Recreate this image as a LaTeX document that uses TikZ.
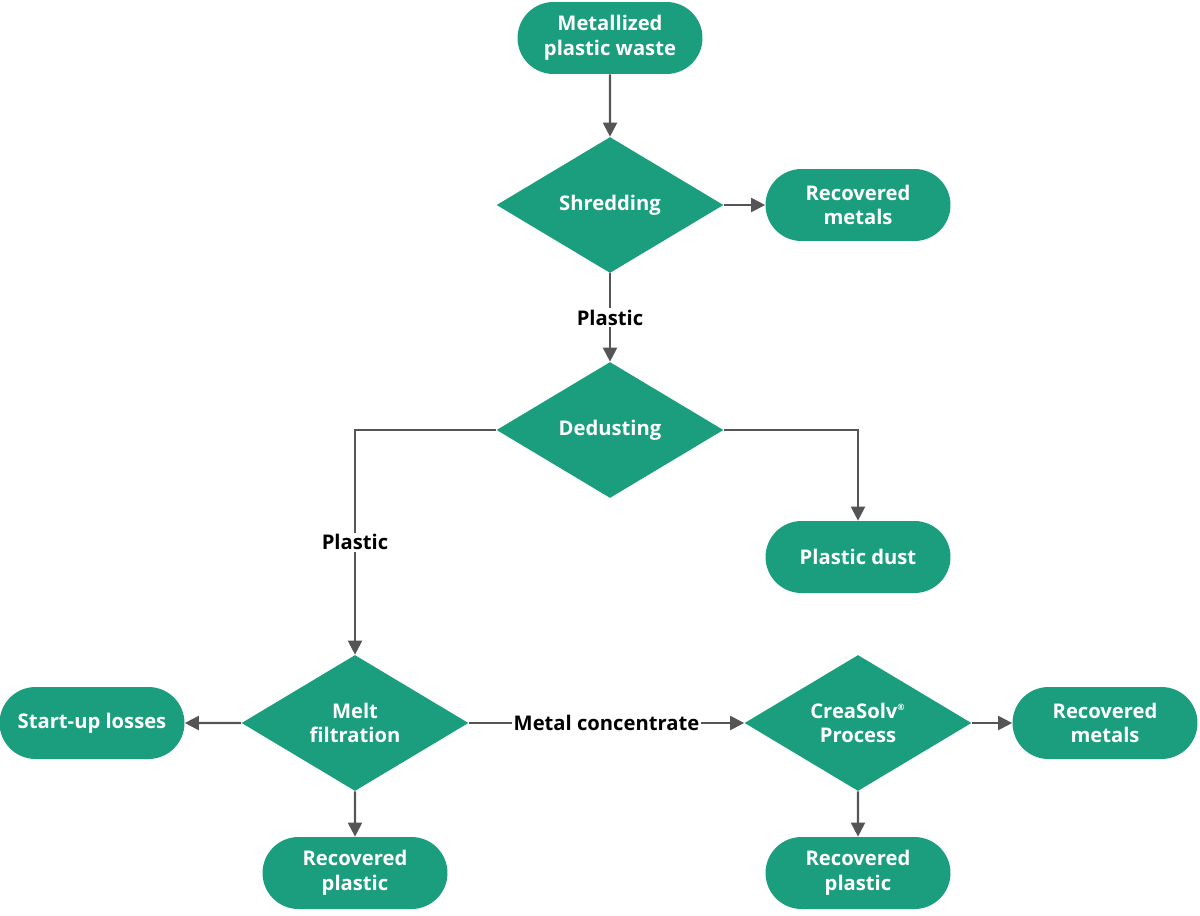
\documentclass[tikz,border=0pt]{standalone}
\usepackage{fontspec}
\setmainfont{Open Sans}
\usetikzlibrary{shapes.geometric,shapes.misc,arrows.meta}
\definecolor{teal}{HTML}{1A9E7E}
\definecolor{arr}{HTML}{555555}
\tikzset{
  term/.style={rounded rectangle,fill=teal,text=white,font=\bfseries\fontsize{11.5}{14}\selectfont,
    minimum width=3.7cm,minimum height=1.44cm,align=center,inner sep=0},
  proc/.style={diamond,fill=teal,text=white,font=\bfseries\fontsize{11.5}{14}\selectfont,
    minimum width=4.54cm,minimum height=2.72cm,aspect=1.67,align=center,inner sep=0},
  flow/.style={draw=arr,line width=1.2pt,-{Triangle[length=8pt,width=8pt]}},
  lbl/.style={font=\bfseries\fontsize{11.5}{14}\selectfont,fill=white,inner sep=1pt}
}
\begin{document}
\begin{tikzpicture}[x=0.02cm,y=-0.02cm]
\useasboundingbox (0,0) rectangle (1200,916);
\node[term] (waste) at (610,38) {Metallized\\plastic waste};
\node[proc] (shred) at (610,205) {Shredding};
\node[term] (met1) at (858,205) {Recovered\\metals};
\node[proc] (dedust) at (610,430) {Dedusting};
\node[term] (dust) at (858,557) {Plastic dust};
\node[proc] (melt) at (355,723) {Melt\\filtration};
\node[term] (loss) at (92,723) {Start-up losses};
\node[term] (pl1) at (355,873) {Recovered\\plastic};
\node[proc] (crea) at (858,723) {CreaSolv\textsuperscript{\tiny®}\\Process};
\node[term] (met2) at (1105,723) {Recovered\\metals};
\node[term] (pl2) at (858,873) {Recovered\\plastic};
\coordinate (dl) at (355,430);
\coordinate (dr) at (858,430);
\draw[flow] (waste) -- (shred);
\draw[flow] (shred) -- (met1);
\draw[flow] (shred) -- node[lbl]{Plastic} (dedust);
\draw[flow] (dedust.west) -- (dl) -- node[lbl,pos=0.5]{Plastic} (melt.north);
\draw[flow] (dedust.east) -- (dr) -- (dust.north);
\draw[flow] (melt) -- (loss);
\draw[flow] (melt) -- (pl1);
\draw[flow] (melt) -- node[lbl]{Metal concentrate} (crea);
\draw[flow] (crea) -- (met2);
\draw[flow] (crea) -- (pl2);
\end{tikzpicture}
\end{document}
